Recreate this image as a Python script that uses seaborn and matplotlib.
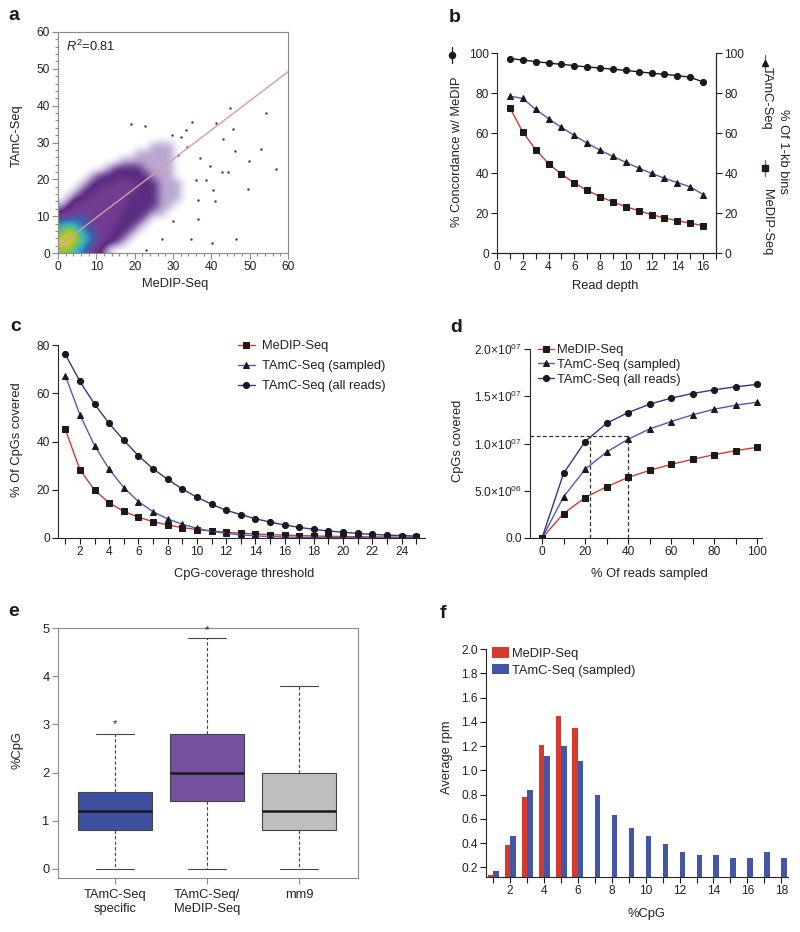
import numpy as np
import pandas as pd
import seaborn as sns
import matplotlib.pyplot as plt
from matplotlib.colors import LinearSegmentedColormap
from matplotlib.lines import Line2D
from matplotlib.ticker import FuncFormatter, MultipleLocator

# ─────────────────────────────────────────
# DATA
# ─────────────────────────────────────────
# a: density of the MeDIP vs TAmC scatter, 2x2 unit cells, bottom row first
# (0 = empty, 1 = sparse, 2-3 purple, 4 blue, 5 cyan, 6 green, 7 yellow)
density_rows = [
    [6, 6, 5, 4, 3, 2, 1, 0, 0, 0, 0, 0, 0, 0, 0, 0, 0],
    [7, 7, 6, 5, 4, 3, 2, 2, 1, 0, 0, 0, 0, 0, 0, 0, 0],
    [6, 7, 6, 5, 4, 3, 3, 2, 2, 1, 0, 0, 0, 0, 0, 0, 0],
    [5, 6, 5, 4, 3, 3, 3, 2, 2, 2, 1, 0, 0, 0, 0, 0, 0],
    [4, 4, 4, 4, 3, 3, 3, 3, 2, 2, 2, 1, 0, 0, 0, 0, 0],
    [2, 3, 3, 3, 3, 3, 3, 3, 2, 2, 2, 2, 1, 1, 0, 0, 0],
    [1, 2, 3, 3, 3, 3, 3, 3, 3, 2, 2, 2, 2, 1, 1, 0, 0],
    [0, 1, 2, 2, 3, 3, 3, 3, 3, 2, 2, 2, 2, 1, 1, 1, 0],
    [0, 0, 1, 2, 2, 3, 3, 3, 3, 3, 2, 2, 2, 1, 1, 1, 0],
    [0, 0, 0, 1, 2, 2, 2, 3, 3, 3, 2, 2, 2, 1, 1, 1, 0],
    [0, 0, 0, 0, 1, 2, 2, 2, 2, 2, 2, 2, 1, 1, 1, 0, 0],
    [0, 0, 0, 0, 0, 0, 1, 2, 2, 2, 2, 1, 1, 1, 1, 0, 0],
    [0, 0, 0, 0, 0, 0, 0, 0, 1, 1, 1, 1, 1, 1, 1, 0, 0],
    [0, 0, 0, 0, 0, 0, 0, 0, 0, 0, 1, 1, 1, 1, 1, 0, 0],
    [0, 0, 0, 0, 0, 0, 0, 0, 0, 0, 0, 0, 1, 1, 1, 0, 0],
    [0, 0, 0, 0, 0, 0, 0, 0, 0, 0, 0, 0, 0, 0, 0, 0, 0],
]
outlier_x = [19.1, 22.8, 35.0, 33.5, 41.3, 44.8, 45.6, 54.3, 29.7, 32.2, 43.0, 46.2,
             52.9, 49.8, 56.9, 42.9, 44.4, 39.6, 38.7, 40.4, 49.6, 40.9, 36.5, 36.5,
             30.0, 27.0, 34.6, 40.3, 46.5, 23.0, 37.0, 33.7, 31.3, 36.1]
outlier_y = [35.0, 34.5, 35.6, 33.4, 35.2, 39.4, 33.8, 38.1, 32.0, 31.4, 30.9, 27.8,
             28.2, 24.9, 22.7, 22.0, 22.1, 23.5, 19.9, 17.1, 17.4, 14.1, 14.4, 9.2,
             8.6, 3.8, 3.9, 2.7, 3.9, 0.9, 25.7, 28.9, 26.6, 19.9]
fit_x = [0, 60]
fit_y = [1.7, 49.2]

# b: read depth curves
depth = list(range(1, 17))
concord_b = [97.2, 96.5, 95.7, 95.0, 94.3, 93.7, 93.0, 92.5, 91.9, 91.3, 90.6, 89.9,
             89.3, 88.7, 87.9, 85.5]
tamc_bins_b = [78.4, 77.3, 71.8, 67.2, 62.8, 58.8, 54.9, 51.4, 48.3, 45.3, 42.5, 39.8,
               37.4, 35.2, 33.1, 29.2]
medip_bins_b = [72.6, 60.5, 51.7, 44.7, 39.4, 35.0, 31.3, 28.2, 25.5, 23.2, 21.1, 19.2,
                17.5, 16.1, 14.9, 13.7]

# c: CpG coverage threshold
threshold = list(range(1, 26))
medip_c = [45.0, 28.3, 19.8, 14.6, 11.0, 8.6, 6.8, 5.4, 4.3, 3.5, 2.9, 2.4, 2.0, 1.7,
           1.4, 1.2, 1.0, 0.85, 0.7, 0.6, 0.5, 0.45, 0.4, 0.35, 0.3]
sampled_c = [67.3, 51.1, 38.3, 28.5, 20.9, 15.1, 10.9, 7.9, 5.7, 4.0, 2.8, 1.9, 1.3,
             0.9, 0.6, 0.4, 0.3, 0.2, 0.15, 0.1, 0.1, 0.05, 0.05, 0.05, 0.05]
allreads_c = [76.1, 64.9, 55.5, 47.5, 40.5, 34.1, 28.7, 24.3, 20.3, 16.9, 14.0, 11.5,
              9.7, 8.0, 6.6, 5.4, 4.4, 3.6, 2.9, 2.4, 1.9, 1.5, 1.2, 1.0, 0.8]

# d: CpGs covered vs % reads sampled
pct_reads = [0, 10, 20, 30, 40, 50, 60, 70, 80, 90, 100]
medip_d = [0, 2.58e6, 4.28e6, 5.42e6, 6.41e6, 7.15e6, 7.79e6, 8.32e6, 8.81e6, 9.24e6, 9.59e6]
sampled_d = [0, 4.35e6, 7.26e6, 9.10e6, 1.044e7, 1.154e7, 1.232e7, 1.303e7, 1.363e7,
             1.405e7, 1.437e7]
allreads_d = [0, 6.83e6, 1.020e7, 1.214e7, 1.327e7, 1.416e7, 1.480e7, 1.529e7, 1.568e7,
              1.600e7, 1.625e7]
guide_y = 1.08e7
guide_x = [22.5, 40]

# e: %CpG five-number summaries (min, q1, median, q3, max)
groups_e = ["TAmC-Seq\nspecific", "TAmC-Seq/\nMeDIP-Seq", "mm9"]
summary_e = [[0, 0.8, 1.2, 1.6, 2.8],
             [0, 1.4, 2.0, 2.8, 4.8],
             [0, 0.8, 1.2, 2.0, 3.8]]
star_y = [3.0, 4.95]

# f: average rpm by %CpG
cpg_f = list(range(1, 19))
medip_f = [0.14, 0.38, 0.78, 1.21, 1.45, 1.35]
tamc_f = [0.17, 0.46, 0.84, 1.12, 1.20, 1.08, 0.80, 0.63, 0.52, 0.46, 0.39, 0.33,
          0.30, 0.30, 0.28, 0.28, 0.33, 0.28]

# ─────────────────────────────────────────
# STYLE
# ─────────────────────────────────────────
sns.set_theme(style="ticks")
plt.rcParams['font.family'] = ['Liberation Sans', 'DejaVu Sans']
plt.rcParams['mathtext.fontset'] = 'custom'
plt.rcParams['mathtext.rm'] = 'Liberation Sans'
plt.rcParams['mathtext.it'] = 'Liberation Sans:italic'
plt.rcParams['axes.linewidth'] = 0.8
plt.rcParams['text.color'] = '#222222'

RED = '#d63a2c'
BLUE = '#4d5db2'
NAVY = '#2c3a8c'
TICK = 8.6
LAB = 9.3

W, H = 800, 932
fig = plt.figure(figsize=(W / 100, H / 100), dpi=100)


def add_ax(l, t, r, b):
    return fig.add_axes([l / W, 1 - b / H, (r - l) / W, (b - t) / H])


def ftext(x, y, s, **kw):
    kw.setdefault('ha', 'center')
    kw.setdefault('va', 'center')
    kw.setdefault('fontsize', LAB)
    fig.text(x / W, 1 - y / H, s, **kw)


def style_ticks(ax, color='k'):
    ax.tick_params(direction='out', length=4, width=0.8, labelsize=TICK, pad=2,
                   color=color, labelcolor='#222222')
    ax.tick_params(which='minor', direction='out', length=4, width=0.8, color=color)


def side_key(x, y, marker, color, ms):
    fig.add_artist(Line2D([x / W, x / W], [1 - (y - 8) / H, 1 - (y + 8) / H],
                          color=color, lw=0.9, transform=fig.transFigure))
    fig.add_artist(Line2D([x / W], [1 - y / H], marker=marker, color='k', ms=ms,
                          ls='none', transform=fig.transFigure))


MS_O, MS_S, MS_T = 4.4, 4.6, 4.0

# ─────────────────────────────────────────
# a  scatter density
# ─────────────────────────────────────────
ax = add_ax(58, 32, 288, 253)
dens_cmap = LinearSegmentedColormap.from_list(
    "dens", ['#ffffff', '#b9a6d0', '#5a2c82', '#733d92', '#3c62ae', '#36b2c4',
             '#8cc63f', '#eec433'])
grid = np.array(density_rows, dtype=float)
ax.imshow(grid, origin='lower', extent=[0, 2 * grid.shape[1], 0, 2 * grid.shape[0]],
          cmap=dens_cmap, vmin=0, vmax=7, interpolation='bicubic',
          interpolation_stage='data', aspect='auto', zorder=1)
sns.scatterplot(x=outlier_x, y=outlier_y, ax=ax, s=3, color='#4a2a78', linewidth=0,
                zorder=2)
sns.lineplot(x=fit_x, y=fit_y, ax=ax, color='#d99aa6', lw=1.0, zorder=3)
ax.set_xlim(0, 60)
ax.set_ylim(0, 60)
ax.xaxis.set_major_locator(MultipleLocator(10))
ax.yaxis.set_major_locator(MultipleLocator(10))
ax.xaxis.set_minor_locator(MultipleLocator(2))
ax.yaxis.set_minor_locator(MultipleLocator(2))
for sp in ax.spines.values():
    sp.set_color('#8a8a8a')
style_ticks(ax, '#8a8a8a')
ax.tick_params(which='minor', length=2.5)
ax.text(0.035, 0.935, r"$R^2$=0.81", transform=ax.transAxes, fontsize=LAB,
        ha='left', va='center')
ftext(175, 284, "MeDIP-Seq")
ftext(17, 136, "TAmC-Seq", rotation=90)

# ─────────────────────────────────────────
# b  read depth
# ─────────────────────────────────────────
ax = add_ax(497, 53, 716, 253)
ax2 = ax.twinx()
sns.lineplot(x=depth, y=concord_b, ax=ax, color='k', lw=1.0, marker='o', ms=MS_O,
             mfc='k', mec='k')
sns.lineplot(x=depth, y=tamc_bins_b, ax=ax2, color=BLUE, lw=1.0, marker='^', ms=MS_T,
             mfc='k', mec='k')
sns.lineplot(x=depth, y=medip_bins_b, ax=ax2, color=RED, lw=1.0, marker='s', ms=MS_S,
             mfc='k', mec='k')
for a_ in (ax, ax2):
    a_.set_xlim(0, 17)
    a_.set_ylim(0, 100)
    a_.yaxis.set_major_locator(MultipleLocator(20))
    style_ticks(a_)
    a_.set_xlabel("")
    a_.set_ylabel("")
ax.xaxis.set_major_locator(MultipleLocator(2))
ax.xaxis.set_minor_locator(MultipleLocator(1))
ax.spines['top'].set_visible(False)
ax2.spines['top'].set_visible(False)
ax2.spines['left'].set_visible(False)
ftext(605, 286, "Read depth")
ftext(457, 152, "% Concordance w/ MeDIP", rotation=90)
side_key(452, 55, 'o', 'k', MS_O)
ftext(783, 151, "% Of 1-kb bins", rotation=270)
ftext(767, 98, "TAmC-Seq", rotation=270)
side_key(765, 63, '^', BLUE, MS_T)
ftext(767, 222, "MeDIP-Seq", rotation=270)
side_key(765, 168, 's', RED, MS_S)

# ─────────────────────────────────────────
# c  CpG coverage threshold
# ─────────────────────────────────────────
ax = add_ax(58, 345, 425, 538)
sns.lineplot(x=threshold, y=medip_c, ax=ax, color=RED, lw=1.0, marker='s', ms=MS_S,
             mfc='k', mec='k', label="MeDIP-Seq")
sns.lineplot(x=threshold, y=sampled_c, ax=ax, color=BLUE, lw=1.0, marker='^', ms=MS_T,
             mfc='k', mec='k', label="TAmC-Seq (sampled)")
sns.lineplot(x=threshold, y=allreads_c, ax=ax, color=NAVY, lw=1.0, marker='o', ms=MS_O,
             mfc='k', mec='k', label="TAmC-Seq (all reads)")
ax.set_xlim(0.5, 25.6)
ax.set_ylim(0, 80)
ax.set_xticks(range(2, 25, 2))
ax.xaxis.set_minor_locator(MultipleLocator(1))
ax.yaxis.set_major_locator(MultipleLocator(20))
sns.despine(ax=ax)
style_ticks(ax)
ax.set_xlabel("")
ax.set_ylabel("")
ax.legend(loc='upper left', bbox_to_anchor=(238 / W, 1 - 340 / H),
          bbox_transform=fig.transFigure, frameon=False, fontsize=LAB, borderpad=0,
          borderaxespad=0, handlelength=1.3, handletextpad=0.55, labelspacing=0.62)
ftext(244, 574, "CpG-coverage threshold")
ftext(17, 440, "% Of CpGs covered", rotation=90)

# ─────────────────────────────────────────
# d  CpGs covered
# ─────────────────────────────────────────
ax = add_ax(530, 349, 762, 538)
ax.plot([-5.6, guide_x[1]], [guide_y, guide_y], ls=(0, (3, 2)), color='#333333', lw=0.9)
for gx in guide_x:
    ax.plot([gx, gx], [0, guide_y], ls=(0, (3, 2)), color='#333333', lw=0.9)
sns.lineplot(x=pct_reads, y=medip_d, ax=ax, color=RED, lw=1.0, marker='s', ms=MS_S,
             mfc='k', mec='k', label="MeDIP-Seq")
sns.lineplot(x=pct_reads, y=sampled_d, ax=ax, color=BLUE, lw=1.0, marker='^', ms=MS_T,
             mfc='k', mec='k', label="TAmC-Seq (sampled)")
sns.lineplot(x=pct_reads, y=allreads_d, ax=ax, color=NAVY, lw=1.0, marker='o', ms=MS_O,
             mfc='k', mec='k', label="TAmC-Seq (all reads)")
ax.set_xlim(-5.6, 102.3)
ax.set_ylim(0, 2.0e7)
ax.set_xticks(range(0, 101, 20))
ax.xaxis.set_minor_locator(MultipleLocator(10))
ax.set_yticks([0, 5e6, 1e7, 1.5e7, 2e7])


def sci_fmt(v, pos):
    if v <= 0:
        return "0.0"
    e = int(np.floor(np.log10(v) + 1e-9))
    return r"%.1f$\times$10$^{%02d}$" % (v / 10 ** e, e)


ax.yaxis.set_major_formatter(FuncFormatter(sci_fmt))
sns.despine(ax=ax)
style_ticks(ax)
ax.set_xlabel("")
ax.set_ylabel("")
ax.legend(loc='upper left', bbox_to_anchor=(538 / W, 1 - 344 / H),
          bbox_transform=fig.transFigure, frameon=False, fontsize=LAB, borderpad=0,
          borderaxespad=0, handlelength=1.2, handletextpad=0.3, labelspacing=0.22)
ftext(649, 574, "% Of reads sampled")
ftext(458, 441, "CpGs covered", rotation=90)

# ─────────────────────────────────────────
# e  %CpG boxplots
# ─────────────────────────────────────────
ax = add_ax(58, 628, 358, 878)
box_df = pd.DataFrame({
    "group": [g for g, s in zip(groups_e, summary_e) for _ in s],
    "cpg": [v for s in summary_e for v in s],
})
sns.boxplot(data=box_df, x="group", y="cpg", hue="group", ax=ax, whis=(0, 100),
            width=0.81, palette=['#3f4fa0', '#7450a0', '#bebebe'], saturation=1,
            linecolor='#444444', linewidth=0.8, legend=False,
            whiskerprops=dict(linestyle=(0, (3, 2))),
            medianprops=dict(color='k', linewidth=1.8))
for i, sy in enumerate(star_y):
    ax.text(i, sy, "*", ha='center', va='center', fontsize=8)
ax.set_xlim(-0.62, 2.64)
ax.set_ylim(-0.19, 5.0)
ax.yaxis.set_major_locator(MultipleLocator(1))
for sp in ax.spines.values():
    sp.set_color('#8a8a8a')
style_ticks(ax, '#8a8a8a')
ax.tick_params(axis='x', pad=4)
ax.tick_params(labelsize=LAB)
ax.set_xlabel("")
ax.set_ylabel("")
ftext(17, 750, "%CpG", rotation=90)

# ─────────────────────────────────────────
# f  average rpm
# ─────────────────────────────────────────
ax = add_ax(486, 649, 788, 877)
bar_df = pd.DataFrame({
    "cpg": cpg_f[:len(medip_f)] + cpg_f,
    "rpm": medip_f + tamc_f,
    "series": ["MeDIP-Seq"] * len(medip_f) + ["TAmC-Seq (sampled)"] * len(tamc_f),
})
sns.barplot(data=bar_df, x="cpg", y="rpm", hue="series", ax=ax, native_scale=True,
            width=0.65, palette=[RED, '#4355a6'], saturation=1, linewidth=0)
ax.set_xlim(0.57, 18.4)
ax.set_ylim(0.12, 2.0)
ax.set_xticks(cpg_f)
ax.set_xticklabels([str(v) if v % 2 == 0 else "" for v in cpg_f])
ax.set_yticks(np.arange(0.2, 2.01, 0.2))
ax.yaxis.set_major_formatter(FuncFormatter(lambda v, p: "%.1f" % v))
sns.despine(ax=ax)
style_ticks(ax)
ax.set_xlabel("")
ax.set_ylabel("")
ax.legend(loc='upper left', bbox_to_anchor=(492 / W, 1 - 647 / H),
          bbox_transform=fig.transFigure, frameon=False, fontsize=LAB, borderpad=0,
          borderaxespad=0, handlelength=1.3, handleheight=0.9, handletextpad=0.25,
          labelspacing=0.3)
ftext(646, 914, "%CpG")
ftext(447, 757, "Average rpm", rotation=90)

# panel letters
for x, y, s in [(8, 16, 'a'), (449, 18, 'b'), (10, 326, 'c'), (450, 328, 'd'),
                (8, 612, 'e'), (440, 614, 'f')]:
    ftext(x, y, s, ha='left', fontsize=14, fontweight='bold', color='k')

plt.savefig("out.png", dpi=100)
